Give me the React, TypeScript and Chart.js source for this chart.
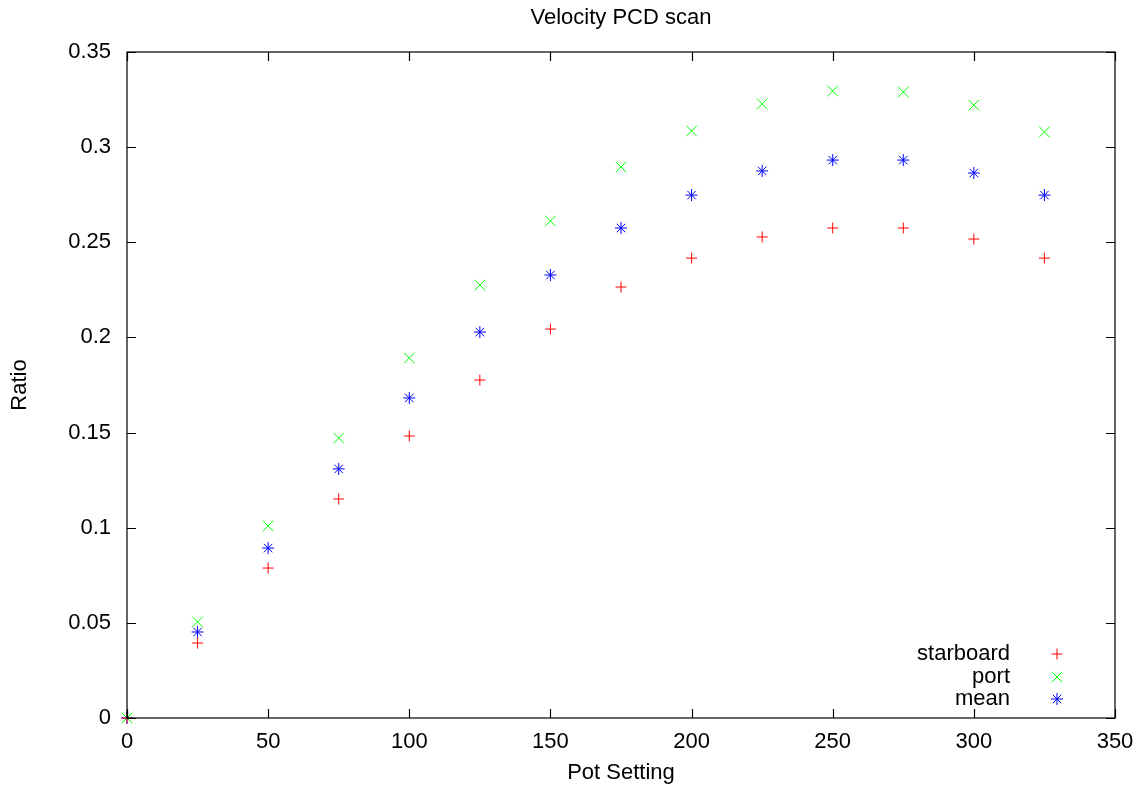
import { useEffect, useRef } from 'react';
import { Chart, registerables } from 'chart.js';
import { drawPoint } from 'chart.js/helpers';

Chart.register(...registerables);

const potSettings = [0, 25, 50, 75, 100, 125, 150, 175, 200, 225, 250, 275, 300, 325];
const starboard = [0, 0.0394, 0.0788, 0.1151, 0.1482, 0.1776, 0.2044, 0.2265, 0.2417, 0.2528, 0.2575, 0.2575, 0.2517, 0.2417];
const port = [0, 0.0505, 0.1009, 0.1471, 0.1892, 0.2275, 0.2612, 0.2896, 0.3085, 0.3227, 0.3295, 0.329, 0.3221, 0.308];
const mean = [0, 0.0452, 0.0893, 0.1309, 0.1682, 0.2028, 0.2328, 0.2575, 0.2748, 0.2875, 0.2932, 0.2932, 0.2864, 0.2748];

const xTicks = [0, 50, 100, 150, 200, 250, 300, 350];
const yTicks = [0, 0.05, 0.1, 0.15, 0.2, 0.25, 0.3, 0.35];

const titleText = 'Velocity PCD scan';
const xTitle = 'Pot Setting';
const yTitle = 'Ratio';

const FONT = '"Liberation Sans", Arial, Helvetica, sans-serif';

const gnuplotFrame = {
  id: 'gnuplotFrame',
  afterDraw(chart: any) {
    const { ctx, chartArea: a, scales } = chart;
    const xs = scales.x;
    const ys = scales.y;
    ctx.save();
    ctx.strokeStyle = '#000';
    ctx.lineWidth = 1.2;
    ctx.strokeRect(a.left, a.top, a.right - a.left, a.bottom - a.top);
    const tl = 9;
    ctx.beginPath();
    for (const v of xTicks) {
      const px = Math.round(xs.getPixelForValue(v)) + 0.5;
      ctx.moveTo(px, a.bottom);
      ctx.lineTo(px, a.bottom - tl);
      ctx.moveTo(px, a.top);
      ctx.lineTo(px, a.top + tl);
    }
    for (const v of yTicks) {
      const py = Math.round(ys.getPixelForValue(v)) + 0.5;
      ctx.moveTo(a.left, py);
      ctx.lineTo(a.left + tl, py);
      ctx.moveTo(a.right, py);
      ctx.lineTo(a.right - tl, py);
    }
    ctx.stroke();

    ctx.fillStyle = '#000';
    ctx.font = `22px ${FONT}`;
    ctx.textAlign = 'center';
    ctx.textBaseline = 'middle';
    const cx = (a.left + a.right) / 2;
    ctx.fillText(titleText, cx, 18);
    ctx.fillText(xTitle, cx, 773);
    ctx.save();
    ctx.translate(20, (a.top + a.bottom) / 2);
    ctx.rotate(-Math.PI / 2);
    ctx.fillText(yTitle, 0, 0);
    ctx.restore();

    // legend
    const rows = [a.bottom - 64, a.bottom - 41, a.bottom - 19];
    chart.data.datasets.forEach((ds: any, i: number) => {
      const y = rows[i];
      ctx.textAlign = 'right';
      ctx.fillStyle = '#000';
      ctx.fillText(ds.label, a.right - 105, y);
      ctx.strokeStyle = ds.borderColor;
      ctx.lineWidth = 1;
      drawPoint(ctx, { pointStyle: ds.pointStyle, radius: ds.pointRadius, rotation: 0, borderWidth: 1 }, a.right - 58, y);
    });
    ctx.restore();
  },
};

export default function App() {
  const ref = useRef<HTMLCanvasElement>(null);
  useEffect(() => {
    if (!ref.current) return;
    const mk = (arr: number[]) => potSettings.map((x, i) => ({ x, y: arr[i] }));
    const chart = new Chart(ref.current, {
      type: 'scatter',
      data: {
        datasets: [
          { label: 'starboard', data: mk(starboard), pointStyle: 'cross', pointRadius: 5.5, borderColor: '#ff0000', backgroundColor: '#ff0000', borderWidth: 1, pointHoverRadius: 5.5, clip: false },
          { label: 'port', data: mk(port), pointStyle: 'crossRot', pointRadius: 7.5, borderColor: '#00ff00', backgroundColor: '#00ff00', borderWidth: 1, pointHoverRadius: 7.5, clip: false },
          { label: 'mean', data: mk(mean), pointStyle: 'star', pointRadius: 6, borderColor: '#0000ff', backgroundColor: '#0000ff', borderWidth: 1, pointHoverRadius: 6, clip: false },
        ],
      },
      options: {
        responsive: false,
        animation: false,
        devicePixelRatio: 1,
        events: [],
        layout: { autoPadding: false, padding: { top: 52, right: 25, left: 0, bottom: 0 } },
        plugins: { legend: { display: false }, title: { display: false }, tooltip: { enabled: false } },
        scales: {
          x: {
            type: 'linear',
            min: 0,
            max: 350,
            afterBuildTicks: (s: any) => { s.ticks = xTicks.map((v) => ({ value: v })); },
            ticks: { color: '#000', font: { size: 22, family: FONT }, padding: 11, maxRotation: 0, autoSkip: false },
            grid: { display: false, drawTicks: false },
            border: { display: false },
            afterFit: (s: any) => { s.height = 69; s.paddingRight = 0; s.paddingLeft = 0; },
          },
          y: {
            type: 'linear',
            min: 0,
            max: 0.35,
            afterBuildTicks: (s: any) => { s.ticks = yTicks.map((v) => ({ value: v })); },
            ticks: { color: '#000', font: { size: 22, family: FONT }, padding: 16, autoSkip: false, callback: (v: any) => String(Number(Number(v).toFixed(2))) },
            grid: { display: false, drawTicks: false },
            border: { display: false },
            afterFit: (s: any) => { s.width = 127; s.paddingTop = 0; s.paddingBottom = 0; },
          },
        },
      },
      plugins: [gnuplotFrame],
    });
    return () => chart.destroy();
  }, []);
  return (
    <div style={{ position: 'absolute', left: 0, top: 0, width: 1140, height: 787, background: '#fff' }}>
      <canvas ref={ref} width={1140} height={787} style={{ display: 'block' }} />
    </div>
  );
}
